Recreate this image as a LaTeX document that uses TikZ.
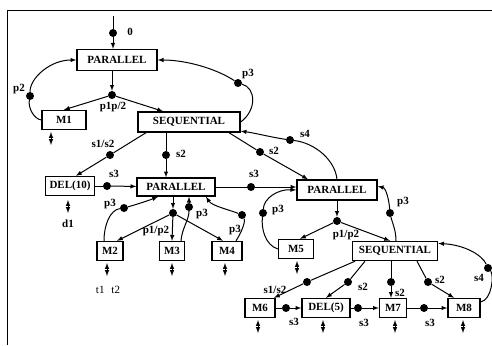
\documentclass[tikz,border=0pt]{standalone}
\usepackage{fontspec}
\setmainfont{Liberation Serif}
\usetikzlibrary{arrows}

\tikzset{
  blk/.style={draw,line width=1.4pt,inner sep=0pt,minimum height=19pt,font=\fontsize{11}{11}\selectfont\bfseries},
  dotn/.style={circle,fill,inner sep=0pt,minimum size=8pt},
  lbl/.style={inner sep=0.75pt,font=\fontsize{11}{11}\selectfont\bfseries},
  ln/.style={line width=1pt},
  con/.style={line width=1pt,-latex},
  io/.style={line width=1pt,latex-latex},
}

\begin{document}
\begin{tikzpicture}[x=1pt,y=1pt,yscale=-1,xscale=1]
\useasboundingbox (0,0) rectangle (492,345);

%Frame
\draw[line width=0.9pt] (7,345) -- (7,10) -- (492,10);

%Shape: Rectangle (boxes)
\node[blk,minimum width=80pt,minimum height=21pt] (par1) at (117,60) {PARALLEL};
\node[blk,minimum width=44pt] (m1) at (64,120) {M1};
\node[blk,minimum width=102pt,minimum height=20pt] (seq1) at (189,122) {SEQUENTIAL};
\node[blk,minimum width=49pt] (del10) at (70,186) {DEL(10)};
\node[blk,minimum width=78pt,minimum height=18pt] (par2) at (176,187) {PARALLEL};
\node[blk,minimum width=80pt,minimum height=20pt] (par3) at (337,190) {PARALLEL};
\node[blk,minimum width=26pt] (m2) at (110,251) {M2};
\node[blk,minimum width=25pt] (m3) at (172,251) {M3};
\node[blk,minimum width=30pt] (m4) at (227,251) {M4};
\node[blk,minimum width=35pt] (m5) at (296,249) {M5};
\node[blk,minimum width=85pt] (seq2) at (395,251) {SEQUENTIAL};
\node[blk,minimum width=30pt] (m6) at (260,308) {M6};
\node[blk,minimum width=48pt] (del5) at (326,308) {DEL(5)};
\node[blk,minimum width=27pt] (m7) at (393,308) {M7};
\node[blk,minimum width=32pt] (m8) at (464,308) {M8};

%Shape: Circle (dots)
\node[dotn] (k0) at (113,33) {};
\node[dotn] (f1) at (112,95) {};
\node[dotn] (kp2) at (30,96) {};
\node[dotn] (kp3) at (238,83) {};
\node[dotn] (ks12) at (110,155) {};
\node[dotn] (ks2a) at (166,155) {};
\node[dotn] (ks2b) at (260,152) {};
\node[dotn] (ks4) at (290,140) {};
\node[dotn] (ks3a) at (107,186) {};
\node[dotn] (ks3b) at (251,187) {};
\node[dotn] (f2) at (173,213) {};
\node[dotn] (kp3a) at (124,208) {};
\node[dotn] (kp3b) at (189,207) {};
\node[dotn] (kp3c) at (242,215) {};
\node[dotn] (f3) at (337,221) {};
\node[dotn] (kp3d) at (263,213) {};
\node[dotn] (kp3e) at (390,213) {};
\node[dotn] (ks12b) at (307,282) {};
\node[dotn] (ks2c) at (348,282) {};
\node[dotn] (ks2d) at (391,282) {};
\node[dotn] (ks2e) at (428,282) {};
\node[dotn] (ks4b) at (488,268) {};
\node[dotn] (ks3c) at (286,308) {};
\node[dotn] (ks3d) at (358,308) {};
\node[dotn] (ks3e) at (424,308) {};

%Straight Lines
\coordinate (in) at (113,16);
\draw[ln] (in) -- (k0);
\draw[con] (k0) -- (k0 |- par1.north);
\draw[con] (f1 |- par1.south) -- (f1);
\draw[con] (f1) -- (m1.north);
\draw[con] (f1) -- ([xshift=-26pt]seq1.north);
%Curves: p2, p3
\draw[ln] (m1.west) .. controls (34,119) and (28,108) .. (kp2);
\draw[con] (kp2) .. controls (30,78) and (50,60) .. (par1.west);
\draw[ln] (seq1.east) .. controls (257,110) and (256,88) .. (kp3);
\draw[con] (kp3) .. controls (215,68) and (185,60) .. (par1.east);

\draw[ln] ([xshift=-43pt]seq1.south) -- (ks12);
\draw[con] (ks12) -- ([xshift=6pt]del10.north);
\draw[ln] ([xshift=-23pt]seq1.south) -- (ks2a);
\draw[con] (ks2a) -- (ks2a |- par2.north);
\draw[ln] ([xshift=40pt]seq1.south) -- (ks2b);
\draw[con] (ks2b) -- ([xshift=-29pt]par3.north);
\draw[ln] (par3.north) .. controls (335,160) and (315,143) .. (ks4);
\draw[con] (ks4) .. controls (270,137) and (255,133) .. (seq1.-10);

\draw[ln] (del10) -- (ks3a);
\draw[con] (ks3a) -- (par2);
\draw[ln] (par2) -- (ks3b);
\draw[con] (ks3b) -- (ks3b -| par3.west);

\draw[con] (f2 |- par2.south) -- (f2);
\draw[con] (f2) -- ([xshift=7pt]m2.north);
\draw[con] (f2) -- (m3.north);
\draw[con] (f2) -- ([xshift=-4pt]m4.north);
\draw[ln] ([xshift=-6pt]m2.north) .. controls (104,225) and (110,210) .. (kp3a);
\draw[con] (kp3a) .. controls (138,204) and (150,200) .. ([xshift=-18pt]par2.south);
\draw[ln] ([xshift=9pt]m3.north) .. controls (182,228) and (189,220) .. (kp3b);
\draw[con] (kp3b) -- (kp3b |- par2.south);
\draw[ln] ([xshift=9pt]m4.north) .. controls (240,235) and (246,222) .. (kp3c);
\draw[con] (kp3c) .. controls (230,210) and (212,206) .. ([xshift=30pt]par2.south);

\draw[con] (par3.south) -- (f3);
\draw[con] (f3) -- ([xshift=4pt]m5.north);
\draw[con] (f3) -- ([xshift=-5pt]seq2.north);
\draw[ln] (m5.west) .. controls (265,245) and (261,228) .. (kp3d);
\draw[con] (kp3d) .. controls (264,198) and (278,189) .. (par3.west);
\draw[ln] ([xshift=1pt]seq2.north) .. controls (396,230) and (392,222) .. (kp3e);
\draw[con] (kp3e) .. controls (389,200) and (386,188) .. (par3.5);

\draw[ln] ([xshift=-40pt]seq2.south) -- (ks12b);
\draw[con] (ks12b) -- ([xshift=14pt]m6.north);
\draw[ln] ([xshift=-30pt]seq2.south) -- (ks2c);
\draw[con] (ks2c) -- (del5.north);
\draw[ln] (ks2d |- seq2.south) -- (ks2d);
\draw[con] (ks2d) -- (ks2d |- m7.north);
\draw[ln] ([xshift=22pt]seq2.south) -- (ks2e);
\draw[con] (ks2e) -- ([xshift=-10pt]m8.north);
\draw[ln] (m8.20) .. controls (492,300) and (494,275) .. (ks4b);
\draw[con] (ks4b) .. controls (482,255) and (465,245) .. (seq2.10);

\draw[ln] (m6) -- (ks3c);
\draw[con] (ks3c) -- (del5);
\draw[ln] (del5) -- (ks3d);
\draw[con] (ks3d) -- (m7);
\draw[ln] (m7) -- (ks3e);
\draw[con] (ks3e) -- (m8);

%Double arrows (inputs/outputs)
\coordinate (io1) at (51,132);
\coordinate (io2) at (68,200);
\coordinate (io3) at (107,263);
\coordinate (io4) at (172,263);
\coordinate (io5) at (225,263);
\coordinate (io6) at (297,261);
\coordinate (io7) at (258,320);
\coordinate (io8) at (323,320);
\coordinate (io9) at (395,320);
\coordinate (io10) at (463,320);
\foreach \c in {io1,io2,io3,io4,io5,io6,io7,io8,io9,io10}
  \draw[io] (\c) -- ++(0,13);

% Text Node
\node[lbl] (l0) at (130,32) {0};
\node[lbl] (lf1) at (113,107) {p1p/2};
\node[lbl] (lp2) at (19,89) {p2};
\node[lbl] (lp3) at (248,74) {p3};
\node[lbl] (ls12) at (103,144) {s1/s2};
\node[lbl] (ls2a) at (181,154) {s2};
\node[lbl] (ls2b) at (274,151) {s2};
\node[lbl] (ls4) at (305,134) {s4};
\node[lbl] (ls3a) at (114,174) {s3};
\node[lbl] (ls3b) at (254,174) {s3};
\node[lbl] (ld1) at (68,224) {d1};
\node[lbl] (lp3a) at (110,204) {p3};
\node[lbl] (lp3b) at (202,214) {p3};
\node[lbl] (lp3c) at (235,230) {p3};
\node[lbl] (lf2) at (156,231) {p1/p2};
\node[inner sep=0.75pt,font=\fontsize{11}{11}\selectfont] (lt) at (108,290) {t1\hspace{7pt}t2};
\node[lbl] (lp3d) at (278,210) {p3};
\node[lbl] (lp3e) at (403,202) {p3};
\node[lbl] (lf3) at (346,235) {p1/p2};
\node[lbl] (ls12b) at (275,290) {s1/s2};
\node[lbl] (ls2c) at (363,287) {s2};
\node[lbl] (ls2d) at (400,293) {s2};
\node[lbl] (ls2e) at (440,280) {s2};
\node[lbl] (ls4b) at (479,278) {s4};
\node[lbl] (ls3c) at (294,322) {s3};
\node[lbl] (ls3d) at (364,323) {s3};
\node[lbl] (ls3e) at (430,323) {s3};

\end{tikzpicture}
\end{document}
